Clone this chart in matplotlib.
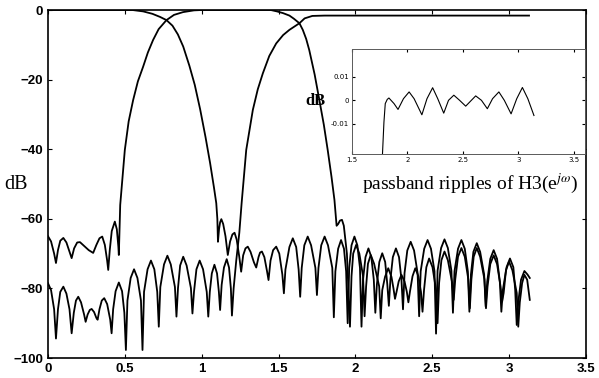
import numpy as np
import matplotlib
matplotlib.use("Agg")
import matplotlib.pyplot as plt

plt.rcParams['mathtext.fontset'] = 'stix'

# lowpass filter H1 (passband at left, stopband from ~1.1)
w_h1 = [0.0, 0.55, 0.62, 0.68, 0.73, 0.771, 0.81, 0.845, 0.88, 0.92, 0.955, 0.99, 1.025, 1.055, 1.08, 1.095,
        1.102, 1.106, 1.113, 1.12, 1.128, 1.14, 1.155, 1.17, 1.185, 1.2, 1.214, 1.228, 1.245, 1.257, 1.27,
        1.285, 1.3, 1.318, 1.34, 1.355, 1.37, 1.38, 1.392, 1.408, 1.425, 1.435, 1.448, 1.465, 1.485, 1.505,
        1.525, 1.535,
        1.545, 1.571, 1.593, 1.615, 1.631, 1.641,
        1.651, 1.668, 1.69, 1.712, 1.74, 1.75,
        1.76, 1.778, 1.8, 1.822, 1.85, 1.86,
        1.87, 1.888, 1.907, 1.926, 1.94, 1.95,
        1.96, 1.975, 1.994, 2.013, 2.03, 2.04,
        2.05, 2.066, 2.085, 2.104, 2.12, 2.13,
        2.14, 2.156, 2.175, 2.194, 2.208, 2.218,
        2.228, 2.244, 2.264, 2.284, 2.3, 2.31,
        2.32, 2.338, 2.36, 2.382, 2.405, 2.415,
        2.425, 2.448, 2.47, 2.492, 2.515, 2.525,
        2.535, 2.558, 2.58, 2.602, 2.625, 2.635,
        2.645, 2.668, 2.69, 2.712, 2.732, 2.742,
        2.752, 2.768, 2.79, 2.812, 2.838, 2.848,
        2.858, 2.878, 2.9, 2.922, 2.94, 2.95,
        2.96, 2.984, 3.006, 3.028, 3.04, 3.05,
        3.06, 3.078, 3.1, 3.12, 3.135]
db_h1 = [0.0, 0.0, -0.4, -1.1, -2.0, -2.9, -4.5, -7.0, -10.5, -16.0, -21.5, -28.5, -36.5, -44.0, -51.0, -55.5,
         -60.0, -66.6, -63.0, -61.0, -60.1, -61.5, -65.0, -70.4, -66.5, -64.5, -64.0, -66.0, -71.0, -75.2, -70.5,
         -68.5, -68.0, -69.5, -72.5, -74.0, -71.0, -69.7, -69.4, -71.0, -75.0, -77.6, -72.0, -69.0, -68.0, -70.0,
         -76.0, -81.4,
         -74.6, -68.1, -65.6, -68.1, -74.6, -82.4,
         -74.1, -67.6, -65.1, -67.6, -74.1, -81.9,
         -74.1, -67.6, -65.1, -67.6, -74.1, -88.3,
         -75.1, -68.6, -66.1, -68.6, -75.1, -90.0,
         -74.1, -67.6, -65.1, -67.6, -74.1, -91.0,
         -77.5, -71.0, -68.5, -71.0, -77.5, -87.0,
         -78.9, -72.4, -69.9, -72.4, -78.9, -85.0,
         -77.5, -71.0, -68.5, -71.0, -77.5, -86.0,
         -75.6, -69.1, -66.6, -69.1, -75.6, -88.0,
         -75.1, -68.6, -66.1, -68.6, -75.1, -93.0,
         -74.9, -68.4, -65.9, -68.4, -74.9, -87.0,
         -75.1, -68.6, -66.1, -68.6, -75.1, -86.7,
         -76.0, -69.5, -67.0, -69.5, -76.0, -85.2,
         -78.0, -71.5, -69.0, -71.5, -78.0, -86.7,
         -80.4, -73.9, -71.4, -73.9, -80.4, -90.5,
         -84.0, -77.5, -75.0, -76.0, -77.0]

# bandpass filter H2
w_h2 = [0.0, 0.02, 0.04, 0.052, 0.065, 0.08, 0.1, 0.12, 0.14, 0.154, 0.17, 0.19, 0.208, 0.235, 0.265, 0.294,
        0.315, 0.335, 0.353, 0.37, 0.385, 0.392, 0.402, 0.415, 0.435, 0.448, 0.458, 0.461, 0.47, 0.5, 0.525,
        0.554, 0.585, 0.619, 0.65, 0.684, 0.72, 0.771, 0.82, 0.879, 0.95, 1.0, 1.45, 1.49, 1.53, 1.571, 1.6,
        1.636, 1.658, 1.68, 1.7, 1.735, 1.766, 1.795, 1.82, 1.845, 1.864, 1.878, 1.888, 1.9, 1.913, 1.925,
        1.945, 1.965,
        1.975, 1.986, 2.005, 2.026, 2.05, 2.06,
        2.07, 2.082, 2.1, 2.122, 2.155, 2.165,
        2.175, 2.193, 2.214, 2.235, 2.248, 2.258,
        2.268, 2.282, 2.3, 2.32, 2.335, 2.345,
        2.355, 2.372, 2.39, 2.41, 2.427, 2.437,
        2.447, 2.462, 2.48, 2.502, 2.525, 2.535,
        2.545, 2.56, 2.58, 2.602, 2.63, 2.64,
        2.65, 2.668, 2.69, 2.712, 2.735, 2.745,
        2.755, 2.77, 2.79, 2.812, 2.84, 2.85,
        2.86, 2.878, 2.9, 2.922, 2.945, 2.955,
        2.965, 2.98, 3.0, 3.022, 3.05, 3.06,
        3.07, 3.085, 3.1, 3.118, 3.135]
db_h2 = [-65.0, -66.5, -70.0, -72.7, -69.0, -66.3, -65.5, -66.8, -69.5, -71.3, -68.5, -66.8, -66.7, -67.8, -69.0,
         -69.8, -67.5, -65.6, -65.1, -67.5, -72.0, -74.7, -69.0, -63.5, -60.8, -63.0, -68.0, -70.4, -56.0, -40.2,
         -32.0, -25.9, -20.5, -16.3, -12.2, -8.6, -5.5, -2.9, -1.4, -0.6, -0.1, 0.0, 0.0, -0.4, -0.9, -1.6, -2.5,
         -3.8, -5.7, -8.3, -11.5, -18.5, -25.9, -33.0, -40.2, -48.0, -54.6, -62.0, -61.5, -60.5, -60.3, -62.0,
         -70.0, -91.0,
         -76.5, -70.0, -67.5, -70.0, -76.5, -88.0,
         -79.4, -72.9, -70.4, -72.9, -79.4, -88.6,
         -80.5, -76.7, -74.2, -76.7, -80.0, -83.0,
         -81.0, -78.0, -76.1, -78.0, -81.0, -84.0,
         -81.0, -76.5, -74.2, -76.5, -81.0, -86.7,
         -80.4, -73.9, -71.4, -73.9, -80.4, -90.0,
         -78.4, -71.9, -69.4, -71.9, -78.4, -83.3,
         -77.4, -70.9, -68.4, -70.9, -77.4, -85.7,
         -77.4, -70.9, -68.4, -70.9, -77.4, -85.7,
         -79.5, -73.0, -70.5, -73.0, -79.5, -83.8,
         -81.3, -74.8, -72.3, -74.8, -81.3, -91.0,
         -84.0, -78.5, -76.1, -77.5, -83.3]

# highpass filter H3
w_h3 = [0.0, 0.02, 0.04, 0.052, 0.065, 0.08, 0.1, 0.12, 0.14, 0.154, 0.168, 0.182, 0.197, 0.215, 0.235, 0.245,
        0.258, 0.272, 0.284, 0.3, 0.315, 0.323, 0.335, 0.35, 0.366, 0.385, 0.405, 0.414,
        0.424, 0.44, 0.461, 0.482, 0.497, 0.507,
        0.517, 0.538, 0.56, 0.582, 0.605, 0.615,
        0.625, 0.648, 0.67, 0.692, 0.711, 0.721,
        0.731, 0.755, 0.777, 0.799, 0.826, 0.836,
        0.846, 0.86, 0.88, 0.902, 0.93, 0.94,
        0.95, 0.966, 0.987, 1.009, 1.033, 1.043,
        1.053, 1.066, 1.083, 1.1, 1.112, 1.12,
        1.13, 1.145, 1.163, 1.178, 1.19, 1.197,
        1.208, 1.225, 1.245, 1.26, 1.29, 1.333, 1.365, 1.398, 1.44, 1.485, 1.53, 1.571, 1.636, 1.67, 1.72,
        1.8, 3.13]
db_h3 = [-78.5, -80.5, -86.0, -94.4, -86.0, -81.0, -79.5, -81.5, -86.0, -92.9, -87.0, -83.5, -82.4, -84.0, -87.5,
         -89.6, -87.5, -86.2, -85.9, -86.8, -88.5, -89.0, -86.0, -83.5, -82.8, -84.5, -89.0, -92.9,
         -86.0, -80.8, -78.3, -80.8, -87.0, -97.7,
         -83.5, -77.0, -74.5, -77.0, -83.5, -97.7,
         -81.0, -74.5, -72.0, -74.5, -81.0, -91.0,
         -79.6, -73.1, -70.6, -73.1, -79.6, -88.1,
         -79.9, -73.4, -70.9, -73.4, -79.9, -87.2,
         -81.0, -74.5, -72.0, -74.5, -81.0, -88.1,
         -81.0, -75.7, -73.2, -75.7, -81.0, -86.2,
         -79.0, -74.0, -71.6, -74.0, -80.0, -87.8,
         -80.0, -72.0, -64.0, -55.5, -40.2, -28.7, -22.8, -18.2, -13.2, -9.6, -7.2, -5.7, -3.8, -2.4, -1.7,
         -1.6, -1.6]

# passband ripple of H3 (inset)
w_rip = [1.773, 1.788, 1.8, 1.818, 1.833, 1.879, 1.915, 1.964, 2.015, 2.06, 2.13, 2.176, 2.227, 2.273, 2.327,
         2.37, 2.418, 2.47, 2.525, 2.576, 2.615, 2.667, 2.72, 2.767, 2.824, 2.873, 2.934, 2.985, 3.036, 3.085, 3.14]
db_rip = [-0.025, -0.0094, -0.0014, 0.0004, 0.001, -0.0014, -0.0039, 0.0007, 0.0036, 0.0007, -0.0062, 0.0007,
          0.0054, 0.0007, -0.0055, 0.0, 0.0022, 0.0, -0.0025, 0.0, 0.0019, 0.0, -0.0036, 0.0007, 0.0036, 0.0,
          -0.0058, 0.0007, 0.0055, 0.0007, -0.0065]

xticks = [0, 0.5, 1, 1.5, 2, 2.5, 3, 3.5]
xlabels = ['0', '0.5', '1', '1.5', '2', '2.5', '3', '3.5']
yticks = [0, -20, -40, -60, -80, -100]

fig = plt.figure(figsize=(5.99, 3.78), dpi=100)
ax = fig.add_axes([0.0801, 0.0529, 0.898, 0.9206])
for w, d in [(w_h1, db_h1), (w_h2, db_h2), (w_h3, db_h3)]:
    ax.plot(w, d, color='black', lw=1.3)
ax.set_xlim(0, 3.5)
ax.set_ylim(-100, 0)
ax.set_xticks(xticks)
ax.set_xticklabels(xlabels)
ax.set_yticks(yticks)
ax.tick_params(direction='in', top=True, right=True, length=3, labelsize=9.5)
for lab in ax.get_xticklabels() + ax.get_yticklabels():
    lab.set_fontweight('bold')
    lab.set_family('Liberation Sans')
for s in ax.spines.values():
    s.set_linewidth(1.2)
ax.set_ylabel('dB', family='Liberation Serif', fontsize=14.5, rotation=0, va='center')
ax.yaxis.set_label_coords(-0.06, 0.5)

# inset with the passband ripples
ax2 = fig.add_axes([0.5876, 0.5926, 0.389, 0.2778])
ax2.plot(w_rip, db_rip, color='black', lw=0.8)
ax2.set_xlim(1.5, 3.6)
ax2.set_ylim(-0.023, 0.022)
ax2.set_xticks([1.5, 2, 2.5, 3, 3.5])
ax2.set_xticklabels(['1.5', '2', '2.5', '3', '3.5'])
ax2.set_yticks([-0.01, 0, 0.01])
ax2.set_yticklabels(['-0.01', '0', '0.01'])
ax2.tick_params(direction='in', top=True, right=True, length=2, labelsize=5, pad=2)
for s in ax2.spines.values():
    s.set_linewidth(0.7)
    s.set_color('0.35')
ax2.text(-0.155, 0.5, 'dB', transform=ax2.transAxes, family='Liberation Serif', fontweight='bold',
         fontsize=12, va='center', ha='center')

fig.text(0.604, 0.516, r'passband ripples of H3(e$^{j\omega}$)', family='Liberation Serif', fontsize=14,
         va='center', ha='left')

plt.savefig('out.png', dpi=100)
